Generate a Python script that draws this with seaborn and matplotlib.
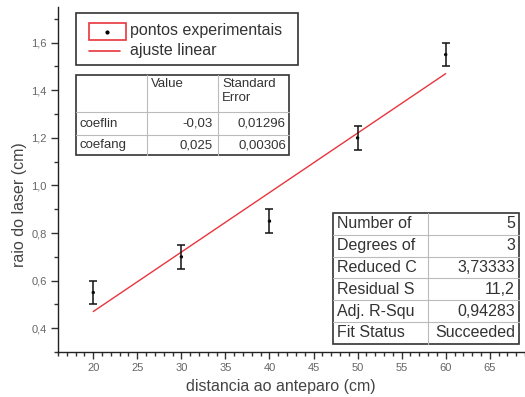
import matplotlib
matplotlib.use("Agg")
import matplotlib.pyplot as plt
from matplotlib.patches import Rectangle
from matplotlib.lines import Line2D
from matplotlib.ticker import MultipleLocator, FuncFormatter
import seaborn as sns
import pandas as pd

# Measurements
distancia = [20, 30, 40, 50, 60]
raio = [0.55, 0.70, 0.85, 1.20, 1.55]
erro = [0.05, 0.05, 0.05, 0.05, 0.05]

# Linear fit parameters
coef_lin = -0.03
coef_ang = 0.025
fit_range = [20, 60]

param_header = ["", "Value", "Standard\nError"]
param_names = ["coeflin", "coefang"]
param_values = ["-0,03", "0,025"]
param_errors = ["0,01296", "0,00306"]

stat_names = ["Number of", "Degrees of", "Reduced C", "Residual S", "Adj. R-Squ", "Fit Status"]
stat_values = ["5", "3", "3,73333", "11,2", "0,94283", "Succeeded"]

sns.set_style("ticks")
plt.rcParams["font.family"] = ["Liberation Sans", "DejaVu Sans"]

W, H = 525, 397
fig = plt.figure(figsize=(W / 100, H / 100), dpi=100)
ax = fig.add_axes([58 / W, (H - 352) / H, (W - 58) / W, (352 - 7) / H])

RED = "#e8353d"
df = pd.DataFrame({"x": distancia, "y": raio})
fit = pd.DataFrame({"x": fit_range, "y": [coef_lin + coef_ang * v for v in fit_range]})

sns.lineplot(data=fit, x="x", y="y", color=RED, lw=1.0, ax=ax)
ax.errorbar(distancia, raio, yerr=erro, fmt="none", ecolor="#111111",
            elinewidth=1.1, capsize=3, capthick=1.1)
sns.scatterplot(data=df, x="x", y="y", color="black", s=6, edgecolor="none", ax=ax)

ax.set_xlim(16, 69)
ax.set_ylim(0.3, 1.75)
ax.xaxis.set_major_locator(MultipleLocator(5))
ax.xaxis.set_minor_locator(MultipleLocator(1))
ax.yaxis.set_major_locator(MultipleLocator(0.2))
ax.yaxis.set_minor_locator(MultipleLocator(0.1))
ax.xaxis.set_major_formatter(FuncFormatter(lambda v, p: f"{v:.0f}" if v >= 20 else ""))
ax.yaxis.set_major_formatter(FuncFormatter(lambda v, p: f"{v:.1f}".replace(".", ",") if v >= 0.39 else ""))
ax.tick_params(which="major", length=5, width=1, color="#333333", labelsize=8,
               labelcolor="#666666", pad=3)
ax.tick_params(which="minor", length=3, width=1, color="#333333")
sns.despine(ax=ax)
for s in ("left", "bottom"):
    ax.spines[s].set_color("#222222")
    ax.spines[s].set_linewidth(1.0)

ax.set_xlabel("distancia ao anteparo (cm)", fontsize=11.5, color="#444444")
ax.set_ylabel("raio do laser (cm)", fontsize=11.5, color="#444444")
ax.xaxis.set_label_coords((281 - 58) / 467, (352 - 379) / 345)
ax.yaxis.set_label_coords((27 - 58) / 467, (352 - 205) / 345)


def fx(x):
    return x / W


def fy(y):
    return 1 - y / H


def box(x0, y0, x1, y1, ec="#333333", lw=1.2, z=5):
    fig.patches.append(Rectangle((fx(x0), fy(y1)), (x1 - x0) / W, (y1 - y0) / H,
                                 transform=fig.transFigure, fill=True, fc="white",
                                 ec=ec, lw=lw, zorder=z))


def seg(x0, y0, x1, y1, color="#bbbbbb", lw=0.8, z=6):
    fig.lines.append(Line2D([fx(x0), fx(x1)], [fy(y0), fy(y1)], transform=fig.transFigure,
                            color=color, lw=lw, zorder=z))


def txt(x, y, s, size, ha="left", va="center", color="#333333"):
    fig.text(fx(x), fy(y), s, fontsize=size, ha=ha, va=va, color=color, zorder=7)


# Legend
box(76, 13, 298, 65)
fig.patches.append(Rectangle((fx(89), fy(40)), 37 / W, 17 / H, transform=fig.transFigure,
                             fill=False, ec=RED, lw=1.2, zorder=6))
fig.lines.append(Line2D([fx(107)], [fy(32)], transform=fig.transFigure, marker="o",
                        ms=2, color="black", zorder=7))
seg(89, 51, 120, 51, color=RED, lw=1.2)
txt(130, 31, "pontos experimentais", 11.5)
txt(130, 51, "ajuste linear", 11.5)

# Parameter table
box(76, 75, 289, 155)
seg(147, 75, 147, 155)
seg(218, 75, 218, 155)
seg(76, 112, 289, 112)
seg(76, 135, 289, 135)
txt(151, 78, param_header[1], 9.5, va="top")
txt(222, 78, param_header[2], 9.5, va="top")
for i, (n, v, e) in enumerate(zip(param_names, param_values, param_errors)):
    yc = 124 + i * 21
    txt(79, yc, n, 9.5)
    txt(213, yc, v, 9.5, ha="right")
    txt(286, yc, e, 9.5, ha="right")

# Fit statistics table
top, rh = 213, 21.8
box(333, top, 519, top + rh * len(stat_names))
seg(428, top, 428, top + rh * len(stat_names))
for i, (n, v) in enumerate(zip(stat_names, stat_values)):
    if i > 0:
        seg(333, top + rh * i, 519, top + rh * i)
    yc = top + rh * (i + 0.5)
    txt(337, yc, n, 11.5)
    txt(515, yc, v, 11.5, ha="right")

fig.savefig("out.png", dpi=100, facecolor="white")
